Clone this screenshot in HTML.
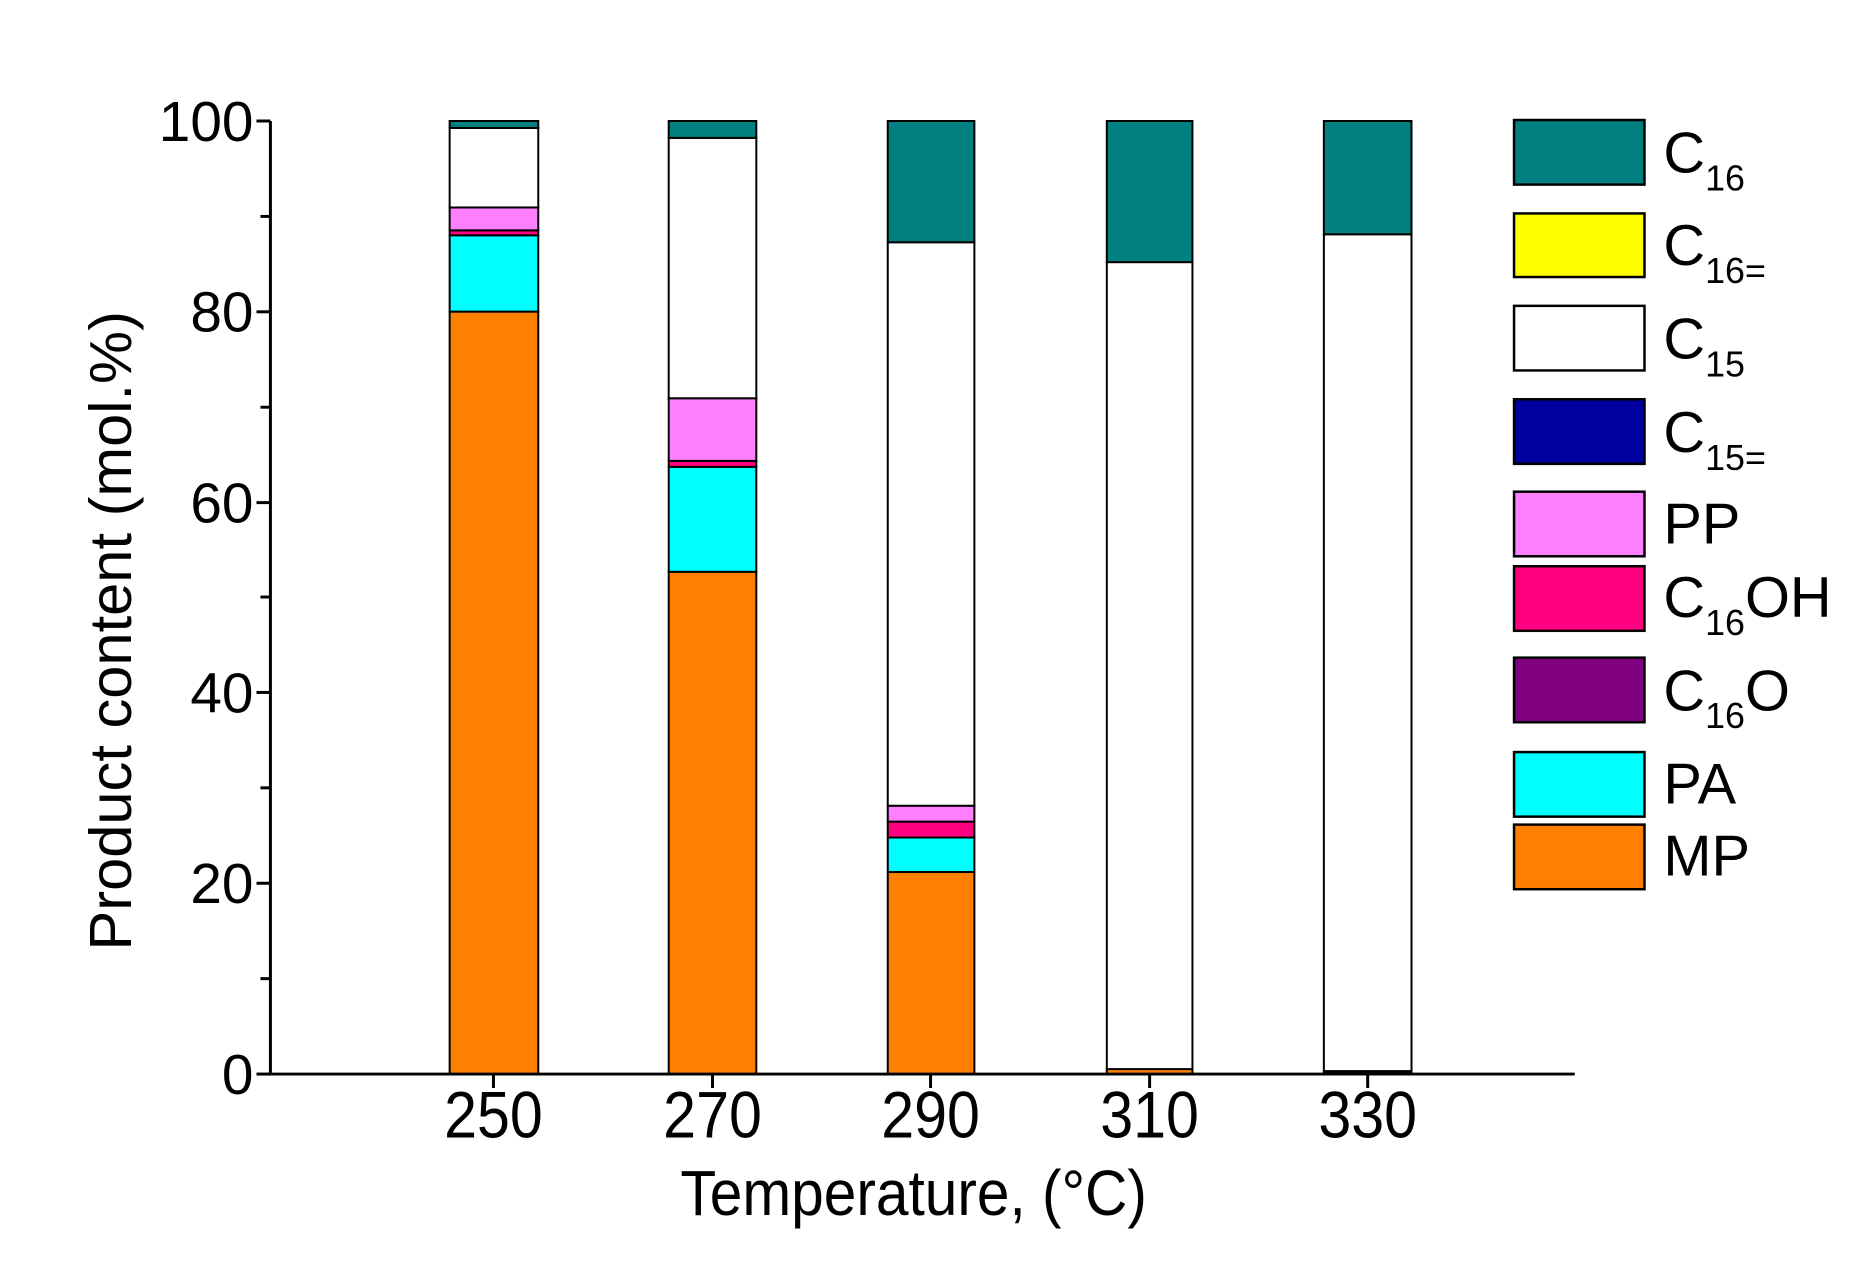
<!DOCTYPE html>
<html><head><style>html,body{margin:0;padding:0;background:#fff}</style></head>
<body>
<svg width="1870" height="1265" xmlns="http://www.w3.org/2000/svg" font-family="Liberation Sans, Arial, sans-serif">
<rect width="1870" height="1265" fill="#fff"/>
<g transform="matrix(0.9957,0,0,0.9938,-2.4,0.75)">
<g stroke="#000" stroke-width="2">
<rect x="454" y="312.8" width="89" height="767.2" fill="#ff8000"/>
<rect x="454" y="236" width="89" height="76.8" fill="#00ffff"/>
<rect x="454" y="231" width="89" height="5" fill="#ff0080"/>
<rect x="454" y="208" width="89" height="23" fill="#ff80ff"/>
<rect x="454" y="128" width="89" height="80" fill="#fff"/>
<rect x="454" y="121" width="89" height="7" fill="#008080"/>
<rect x="674" y="574.6" width="88" height="505.4" fill="#ff8000"/>
<rect x="674" y="469" width="88" height="105.6" fill="#00ffff"/>
<rect x="674" y="463" width="88" height="6" fill="#ff0080"/>
<rect x="674" y="400" width="88" height="63" fill="#ff80ff"/>
<rect x="674" y="138" width="88" height="262" fill="#fff"/>
<rect x="674" y="121" width="88" height="17" fill="#008080"/>
<rect x="894" y="876.7" width="87" height="203.3" fill="#ff8000"/>
<rect x="894" y="842" width="87" height="34.7" fill="#00ffff"/>
<rect x="894" y="826" width="87" height="16" fill="#ff0080"/>
<rect x="894" y="810" width="87" height="16" fill="#ff80ff"/>
<rect x="894" y="243" width="87" height="567" fill="#fff"/>
<rect x="894" y="121" width="87" height="122" fill="#008080"/>
<rect x="1114" y="1075" width="86" height="5" fill="#ff8000"/>
<rect x="1114" y="263" width="86" height="812" fill="#fff"/>
<rect x="1114" y="121" width="86" height="142" fill="#008080"/>
<rect x="1332" y="1077" width="88" height="3" fill="#000"/>
<rect x="1332" y="235" width="88" height="842" fill="#fff"/>
<rect x="1332" y="121" width="88" height="114" fill="#008080"/>
</g>
<g stroke="#000" stroke-width="3">
<line x1="274" y1="121" x2="274" y2="1080"/>
<line x1="272" y1="1080" x2="1584" y2="1080"/>
<line x1="260" y1="121" x2="274" y2="121"/>
<line x1="260" y1="313" x2="274" y2="313"/>
<line x1="260" y1="505" x2="274" y2="505"/>
<line x1="260" y1="696" x2="274" y2="696"/>
<line x1="260" y1="888" x2="274" y2="888"/>
<line x1="260" y1="1080" x2="274" y2="1080"/>
<line x1="264" y1="217" x2="274" y2="217"/>
<line x1="264" y1="409" x2="274" y2="409"/>
<line x1="264" y1="600" x2="274" y2="600"/>
<line x1="264" y1="792" x2="274" y2="792"/>
<line x1="264" y1="984" x2="274" y2="984"/>
<line x1="498" y1="1080" x2="498" y2="1094"/>
<line x1="718" y1="1080" x2="718" y2="1094"/>
<line x1="937" y1="1080" x2="937" y2="1094"/>
<line x1="1157" y1="1080" x2="1157" y2="1094"/>
<line x1="1376" y1="1080" x2="1376" y2="1094"/>
</g>
<g font-size="57" text-anchor="end" fill="#000">
<text x="257" y="141">100</text>
<text x="257" y="333">80</text>
<text x="257" y="525">60</text>
<text x="257" y="716">40</text>
<text x="257" y="908">20</text>
<text x="257" y="1100">0</text>
</g>
<g font-size="66" text-anchor="middle" fill="#000">
<text transform="translate(498,1144) scale(0.9,1)">250</text>
<text transform="translate(718,1144) scale(0.9,1)">270</text>
<text transform="translate(937,1144) scale(0.9,1)">290</text>
<text transform="translate(1157,1144) scale(0.9,1)">310</text>
<text transform="translate(1376,1144) scale(0.9,1)">330</text>
<text transform="translate(920,1222) scale(0.92,1)" font-size="64">Temperature, (°C)</text>
</g>
<text transform="translate(134,634) rotate(-90)" font-size="60" text-anchor="middle">Product content (mol.%)</text>
<g stroke="#000" stroke-width="2.5">
<rect x="1523" y="120" width="131" height="65" fill="#008080"/>
<rect x="1523" y="214" width="131" height="64" fill="#ffff00"/>
<rect x="1523" y="307" width="131" height="65" fill="#fff"/>
<rect x="1523" y="401" width="131" height="65" fill="#00009f"/>
<rect x="1523" y="494" width="131" height="65" fill="#ff80ff"/>
<rect x="1523" y="569" width="131" height="65" fill="#ff0080"/>
<rect x="1523" y="661" width="131" height="65" fill="#800080"/>
<rect x="1523" y="756" width="131" height="65" fill="#00ffff"/>
<rect x="1523" y="829" width="131" height="65" fill="#ff8000"/>
</g>
<g font-size="58" fill="#000">
<text x="1673" y="173">C<tspan font-size="36" dy="18">16</tspan></text>
<text x="1673" y="266">C<tspan font-size="36" dy="18">16=</tspan></text>
<text x="1673" y="360">C<tspan font-size="36" dy="18">15</tspan></text>
<text x="1673" y="454">C<tspan font-size="36" dy="18">15=</tspan></text>
<text x="1673" y="546">PP</text>
<text x="1673" y="620">C<tspan font-size="36" dy="18">16</tspan><tspan dy="-18">OH</tspan></text>
<text x="1673" y="714">C<tspan font-size="36" dy="18">16</tspan><tspan dy="-18">O</tspan></text>
<text x="1673" y="808">PA</text>
<text x="1673" y="880">MP</text>
</g>
</g>
</svg>
</body></html>
